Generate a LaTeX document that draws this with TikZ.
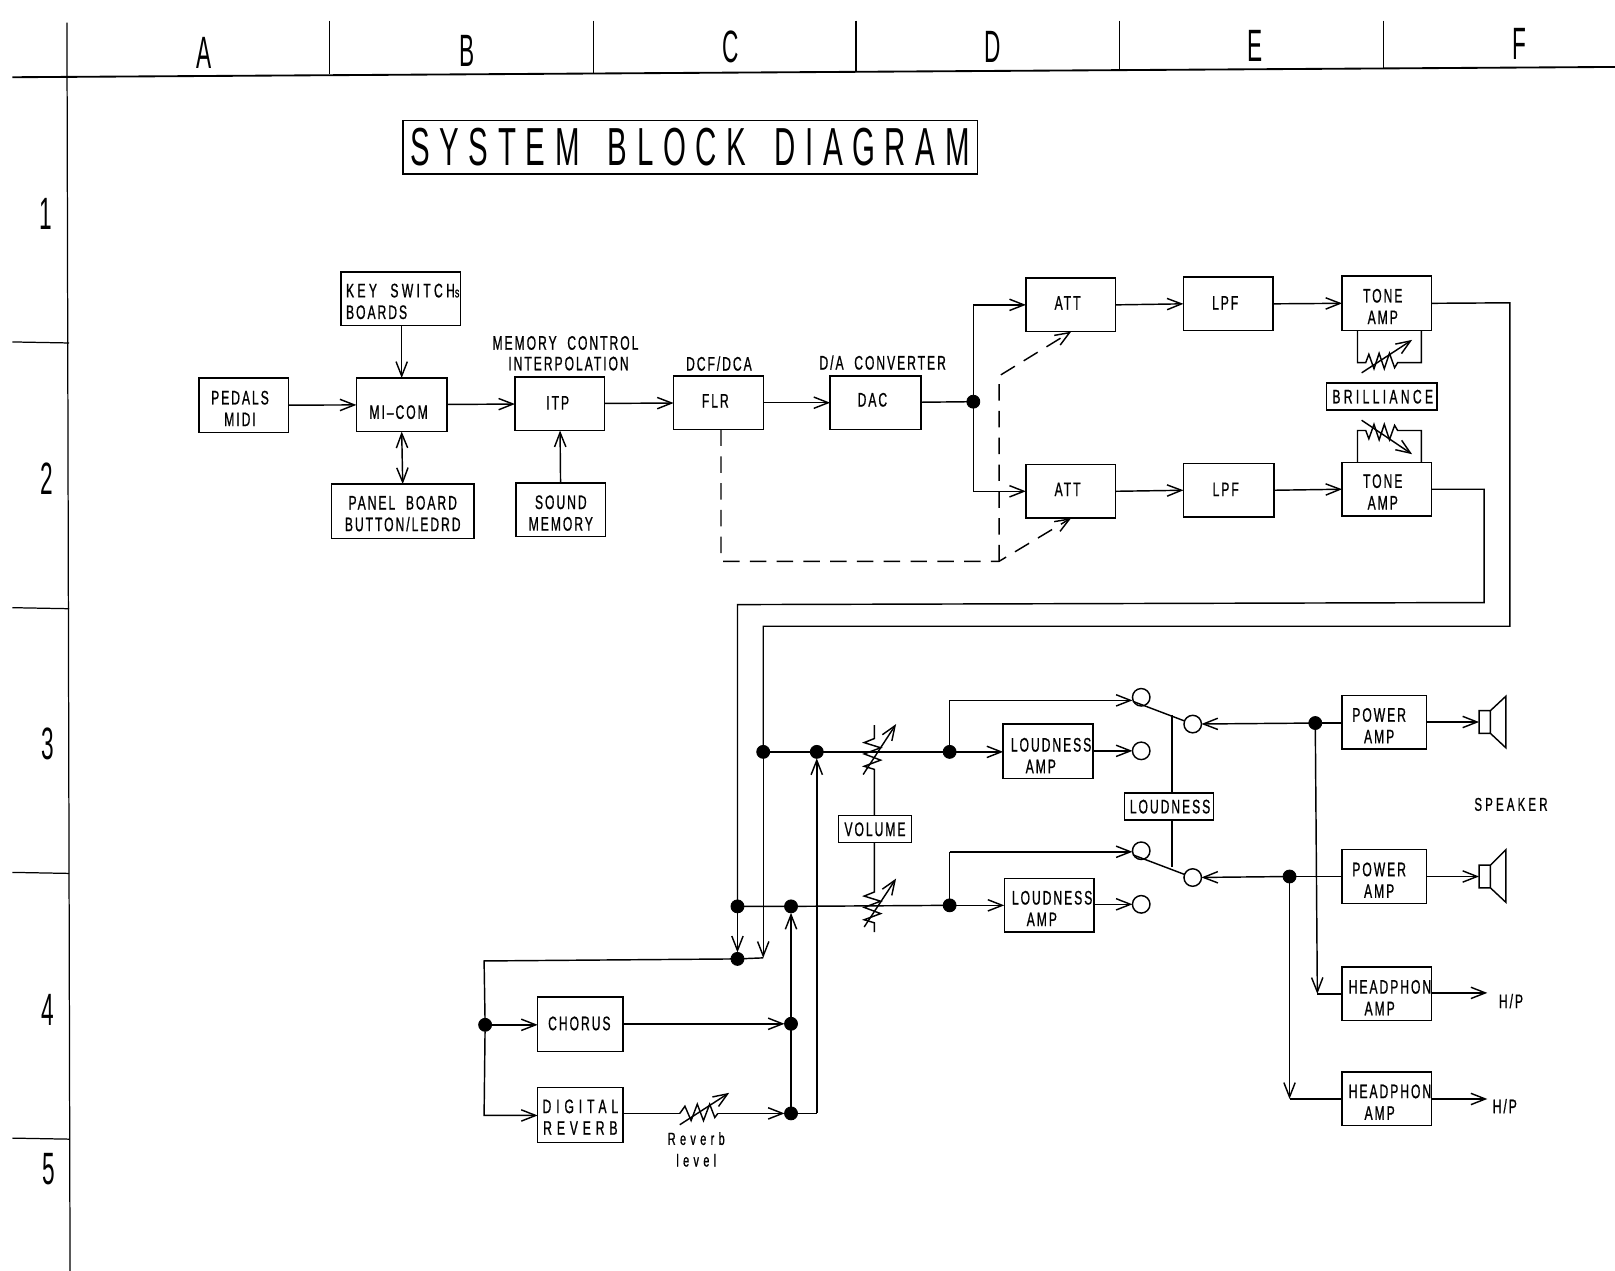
\documentclass[tikz,border=0pt]{standalone}
\usepackage{fontspec}
\usetikzlibrary{arrows.meta}
\setmainfont{Liberation Sans}
\newfontfamily\lblf[FakeStretch=0.62,LetterSpace=10,WordSpace=2,FakeBold=0.8]{Liberation Sans}
\newfontfamily\widef[FakeStretch=0.62,LetterSpace=25,WordSpace=2,FakeBold=0.8]{Liberation Sans}
\newfontfamily\midf[FakeStretch=0.62,LetterSpace=17,WordSpace=2,FakeBold=0.8]{Liberation Sans}
\newfontfamily\titlef[FakeStretch=0.55,LetterSpace=18]{Liberation Sans}
\newfontfamily\headf[FakeStretch=0.5]{Liberation Sans}
\tikzset{
  wire/.style={line width=0.7pt,line join=miter},
  arr/.style={wire,-{Straight Barb[length=7pt,width=5.5pt,line width=0.7pt]}},
  rarr/.style={wire,{Straight Barb[length=7pt,width=5.5pt,line width=0.7pt]}-{Straight Barb[length=7pt,width=5.5pt,line width=0.7pt]}},
  dsh/.style={arr,dash pattern=on 8pt off 5pt},
  blk/.style={draw,line width=0.7pt,inner sep=0pt,outer sep=0pt,font=\lblf\fontsize{9.5}{10.5}\selectfont},
  lab/.style={inner sep=0pt,align=center,font=\lblf\fontsize{9.5}{10.5}\selectfont},
  wlab/.style={inner sep=0pt,align=center,font=\midf\fontsize{9}{10.5}\selectfont},
  hd/.style={inner sep=0pt,font=\headf\fontsize{22}{24}\selectfont},
  jdot/.style={circle,fill=black,draw=black,minimum size=6.3pt,inner sep=0pt,outer sep=0pt},
  term/.style={circle,draw=black,line width=0.7pt,fill=white,minimum size=8.5pt,inner sep=0pt,outer sep=0pt},
  frame/.style={line width=0.6pt},
}
% name, x1, y1, x2, y2, text shift right, text shift down, text
\newcommand\bx[8]{\node[blk,minimum width={(#4-#2)*0.5pt},minimum height={(#5-#3)*0.5pt}] (#1) at ({(#2+#4)/2},{(#3+#5)/2}) {\raisebox{\dimexpr -#7pt/2 - 3.5pt\relax}[0pt][0pt]{\makebox[0pt]{\hspace{#6pt}\begin{tabular}{@{}c@{}}#8\end{tabular}}}};}
\begin{document}
\begin{tikzpicture}[x=0.5pt,y=-0.5pt]
\useasboundingbox (0,0) rectangle (1568,1234);
% frame
\draw[line width=0.9pt] (12,75) -- (1568,65);
\draw[frame] (65,22) -- (68,1234);
\foreach \x/\yy in {320/72,576/72,831/70,1087/68,1343/67} \draw[frame] (\x,20) -- (\x,\yy);
\foreach \yy in {332,590,847,1105} \draw[frame] (12,\yy) -- (67,\yy+1);
\node[hd] (colA) at (198,51) {A};
\node[hd] (colB) at (453,49) {B};
\node[hd] (colC) at (709,46) {C};
\node[hd] (colD) at (964,46) {D};
\node[hd] (colE) at (1219,45) {E};
\node[hd] (colF) at (1475,43) {F};
\node[hd] (row1) at (44,208) {1};
\node[hd] (row2) at (45,465) {2};
\node[hd] (row3) at (46,722) {3};
\node[hd] (row4) at (46,981) {4};
\node[hd] (row5) at (47,1135) {5};
% title
\node[draw,line width=0.9pt,minimum width=279pt,minimum height=26pt,inner sep=0pt,font=\titlef\fontsize{26}{28}\selectfont] (title) at (670,143) {SYSTEM\hspace{5pt} BLOCK\hspace{5pt} DIAGRAM};
% boxes
\bx{pedals}{193}{367}{280}{420}{-3.5}{3}{PEDALS\\MIDI}
\bx{keysw}{331}{264}{447}{316}{2}{2.5}{\makebox[55pt][l]{\midf\fontsize{9.5}{10.5}\selectfont KEY SWITCH{\fontsize{7}{8}\selectfont s}}\\\makebox[55pt][l]{BOARDS}}
\bx{micom}{346}{367}{434}{419}{-3}{7}{MI\textendash COM}
\bx{panel}{322}{470}{460}{523}{0}{2}{PANEL BOARD\\BUTTON/LEDRD}
\bx{itp}{500}{366}{587}{418}{-2}{-1}{ITP}
\bx{sound}{501}{469}{588}{521}{0}{3}{SOUND\\MEMORY}
\bx{flr}{654}{365}{741}{417}{-3}{-2}{FLR}
\bx{dac}{806}{365}{894}{417}{-3}{-3}{DAC}
\bx{att1}{996}{270}{1083}{322}{-3}{-2}{ATT}
\bx{att2}{996}{451}{1083}{503}{-3}{-2}{ATT}
\bx{lpf1}{1149}{269}{1236}{321}{-3}{-1}{LPF}
\bx{lpf2}{1149}{450}{1237}{502}{-3}{-1}{LPF}
\bx{tone1}{1303}{268}{1390}{321}{-4}{3}{TONE\\AMP}
\bx{tone2}{1303}{449}{1390}{501}{-4}{2.5}{TONE\\AMP}
\bx{brill}{1288}{372}{1395}{398}{1}{0}{\midf\fontsize{9.5}{10.5}\selectfont BRILLIANCE}
\node[lab] (memc) at (549,333) {MEMORY CONTROL};
\node[lab] (interp) at (552,353) {INTERPOLATION};
\node[lab] (dcf) at (698,353) {DCF/DCA};
\node[lab] (dacl) at (857,352) {D/A CONVERTER};
\bx{chorus}{522}{968}{605}{1021}{-1}{-1}{CHORUS}
\bx{reverb}{522}{1056}{605}{1109}{0}{2}{\widef\fontsize{9.5}{10.5}\selectfont DIGITAL\\\widef\fontsize{9.5}{10.5}\selectfont REVERB}
\bx{volume}{814}{792}{885}{818}{0}{0}{VOLUME}
\bx{loud1}{974}{703}{1061}{756}{0}{4}{\hspace*{3pt}LOUDNESS\\AMP\hspace*{7pt}}
\bx{loud2}{975}{853}{1062}{905}{0}{3}{\hspace*{3pt}LOUDNESS\\AMP\hspace*{7pt}}
\bx{loudsw}{1092}{770}{1178}{796}{1}{0}{LOUDNESS}
\bx{pow1}{1303}{675}{1385}{727}{-5}{3.5}{POWER\\AMP}
\bx{pow2}{1303}{825}{1385}{877}{-5}{3.5}{POWER\\AMP}
\bx{hp1}{1303}{939}{1390}{991}{3}{3.5}{HEADPHON\\AMP\hspace*{10pt}}
\bx{hp2}{1303}{1041}{1390}{1093}{3}{3}{HEADPHON\\AMP\hspace*{10pt}}
\node[wlab] (spk) at (1467,781) {SPEAKER};
\node[lab] (hpl1) at (1467,972) {H/P};
\node[lab] (hpl2) at (1461,1074) {H/P};
\node[inner sep=0pt,align=center,font=\widef\fontsize{8.5}{10.5}\selectfont] (revl) at (676,1116) {Reverb\\level};
% junctions
\node[jdot] (jdac) at (945,390) {};
\node[jdot] (ja) at (741,730) {};
\node[jdot] (jb) at (716,880) {};
\node[jdot] (jc) at (793,730) {};
\node[jdot] (jd) at (768,880) {};
\node[jdot] (je) at (716,931) {};
\node[jdot] (jf) at (471,995) {};
\node[jdot] (jg) at (768,994) {};
\node[jdot] (jh) at (768,1081) {};
\node[jdot] (ji) at (922,730) {};
\node[jdot] (jj) at (922,879) {};
\node[jdot] (jk) at (1277,702) {};
\node[jdot] (jl) at (1252,851) {};
% terminals
\node[term] (t1) at (1108,677) {};
\node[term] (t2) at (1108,729) {};
\node[term] (t3) at (1108,826) {};
\node[term] (t4) at (1108,878) {};
\node[term] (t5) at (1158,703) {};
\node[term] (t6) at (1158,852) {};
% coordinates
\coordinate (c1) at (1466,294);
\coordinate (c2) at (1466,608);
\coordinate (c3) at (741,608);
\coordinate (c4) at (1441,475);
\coordinate (c5) at (1441,585);
\coordinate (c6) at (716,587);
\coordinate (c7) at (741,930);
\coordinate (c8) at (470,933);
\coordinate (c9) at (470,1083);
\coordinate (c10) at (793,1081);
\coordinate (d1) at (700,417);
\coordinate (d2) at (700,545);
\coordinate (d3) at (970,545);
\coordinate (d4) at (970,365);
\coordinate (d5) at (1040,322);
\coordinate (d6) at (1040,503);
\coordinate (h1) at (1279,965);
\coordinate (h2) at (1252,1067);
\coordinate (sp1) at (1436,701);
\coordinate (sp2) at (1436,851);
\coordinate (hpa1) at (1444,964);
\coordinate (hpa2) at (1444,1067);
\coordinate (k1) at (922,680);
\coordinate (k2) at (922,827);
% top chain
\draw[arr] (pedals) -- (micom);
\draw[arr] (keysw.south -| micom.north) -- (micom.north);
\draw[rarr] (micom.south) -- (panel.north);
\draw[arr] (micom) -- (itp);
\draw[arr] (sound) -- (itp);
\draw[arr] (itp) -- (flr);
\draw[arr] (flr) -- (dac);
\draw[wire] (dac) -- (jdac);
\draw[arr] (jdac) |- (att1.west);
\draw[arr] (jdac) |- (att2.west);
\draw[arr] (att1.east) -- (lpf1.west);
\draw[arr] (att2.east) -- (lpf2.west);
\draw[arr] (lpf1.east) -- (tone1.west);
\draw[arr] (lpf2.east) -- (tone2.west);
% dashed
\draw[dsh] (d1) -- (d2) -- (d3) -- (d6);
\draw[dsh] (d3) -- (d4) -- (d5);
% long returns
\draw[wire] (tone1.east) -- (c1) -- (c2) -- (c3) -- (ja);
\draw[arr] (ja) -- (c7);
\draw[wire] (tone2.east) -- (c4) -- (c5) -- (c6) -- (jb);
\draw[arr] (jb) -- (je);
\draw[wire] (ja) -- (jc) -- (ji);
\draw[wire] (jb) -- (jd) -- (jj);
% effects
\draw[wire] (c7) -- (je) -- (c8) -- (jf);
\draw[arr] (jf) -- (c9) -- (reverb.west |- c9);
\draw[arr] (jf) -- (chorus.west |- jf);
\draw[arr] (chorus.east |- jg) -- (jg);
\draw[arr] (jg) -- (jd);
\draw[wire] (jg) -- (jh);
\draw[wire] (reverb.east |- jh) -- (660,1081);
\draw[wire] (660,1081) -- ++(5,-7) -- ++(6,14) -- ++(6,-16) -- ++(6,16) -- ++(6,-16) -- ++(5,13) -- ++(3,-4);
\draw[arr] (697,1081) -- (jh);
\draw[arr] (660,1092) -- (708,1061);
\draw[wire] (jh) -- (c10);
\draw[arr] (c10) -- (jc);
% brilliance
\draw[wire] (1318,321) -- (1318,352) -- (1326,352) -- ++(3,-8) -- ++(5,14) -- ++(5,-15) -- ++(5,15) -- ++(5,-15) -- ++(5,14) -- ++(3,-5) -- (1380,352) -- (1380,321);
\draw[arr] (1322,362) -- (1371,330);
\draw[wire] (1318,449) -- (1318,418) -- (1326,418) -- ++(3,8) -- ++(5,-14) -- ++(5,15) -- ++(5,-15) -- ++(5,15) -- ++(5,-14) -- ++(3,5) -- (1380,418) -- (1380,449);
\draw[arr] (1322,408) -- (1371,441);
% volume
\draw[wire] (849,704) -- ++(0,13) -- ++(-10,4) -- ++(16,5) -- ++(-16,6) -- ++(16,6) -- ++(-16,6) -- ++(10,3) -- (volume.north -| 849,750);
\draw[arr] (838,752) -- (870,703);
\draw[wire] (849,818) -- (849,866) -- ++(-10,4) -- ++(16,5) -- ++(-16,6) -- ++(16,6) -- ++(-16,6) -- ++(10,3) -- ++(0,9);
\draw[arr] (839,900) -- (870,853);
% loudness feeds
\draw[arr] (ji) -- (loud1.west |- ji);
\draw[arr] (jj) -- (loud2.west |- jj);
\draw[wire] (ji) -- (k1);
\draw[arr] (k1) -- (t1.west |- k1);
\draw[wire] (jj) -- (k2);
\draw[arr] (k2) -- (t3.west |- k2);
\draw[arr] (loud1.east |- t2) -- (t2);
\draw[arr] (loud2.east |- t4) -- (t4);
% switch
\draw[wire] (1100,681) -- (t5);
\draw[wire] (1100,830) -- (t6);
\draw[wire] (1138,694) -- (loudsw.north -| 1138,0);
\draw[wire] (loudsw.south -| 1138,0) -- (1138,842);
% power
\draw[arr] (jk) -- (t5);
\draw[arr] (jl) -- (t6);
\draw[wire] (pow1.west |- jk) -- (jk);
\draw[wire] (pow2.west |- jl) -- (jl);
\draw[arr] (pow1.east |- sp1) -- (sp1);
\draw[arr] (pow2.east |- sp2) -- (sp2);
\draw[wire] (1436,690) rectangle (1447,712) (1447,690) -- (1462,676) -- (1462,726) -- (1447,712);
\draw[wire] (1436,840) rectangle (1447,862) (1447,840) -- (1462,825) -- (1462,876) -- (1447,862);
% headphones
\draw[arr] (jk) -- (h1);
\draw[wire] (h1) -- (hp1.west |- h1);
\draw[arr] (jl) -- (h2);
\draw[wire] (h2) -- (hp2.west |- h2);
\draw[arr] (hp1.east |- hpa1) -- (hpa1);
\draw[arr] (hp2.east |- hpa2) -- (hpa2);
\end{tikzpicture}
\end{document}
